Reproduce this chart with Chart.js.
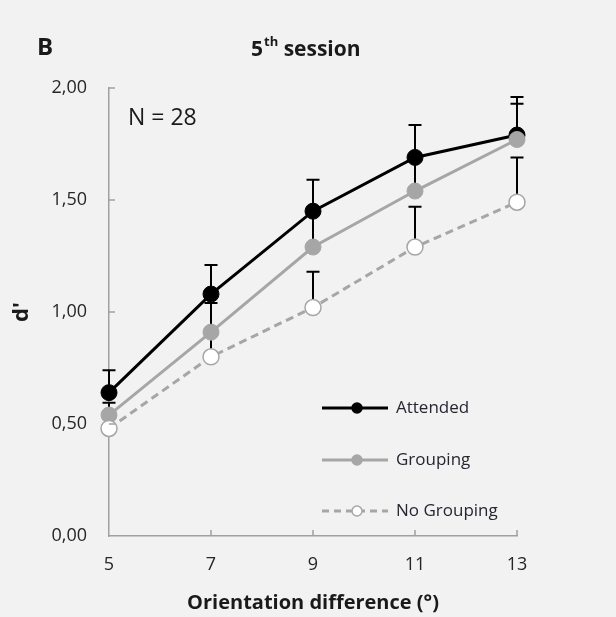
<!DOCTYPE html>
<html>
<head>
<meta charset="utf-8">
<script src="https://cdn.jsdelivr.net/npm/chart.js@4.4.1/dist/chart.umd.min.js"></script>
<style>
  html, body { margin: 0; padding: 0; background: #f2f2f2; }
  #wrap { width: 616px; height: 617px; }
</style>
</head>
<body>
<div id="wrap"><canvas id="dprimeChart" width="616" height="617"></canvas></div>
<script>
// datos
const xValues = [5, 7, 9, 11, 13];
const yTicks = [0, 0.5, 1, 1.5, 2];
const attended = [0.64, 1.08, 1.45, 1.69, 1.79];
const grouping = [0.54, 0.91, 1.29, 1.54, 1.77];
const noGrouping = [0.48, 0.80, 1.02, 1.29, 1.49];
// error hacia arriba
const attendedErr = [0.10, 0.13, 0.14, 0.145, 0.17];
const groupingErr = [0.055, 0.13, 0.15, 0.14, 0.16];
const noGroupingErr = [0.05, 0.11, 0.16, 0.18, 0.20];

const FONT = '"Open Sans", sans-serif';
const GREY = '#a6a6a6';

function toPoints(vals) {
    return xValues.map((x, i) => ({ x: x, y: vals[i] }));
}

// barras de error (solo hacia arriba), dibujadas antes de los puntos
const errorBars = {
    id: 'errorBars',
    beforeDatasetsDraw(chart) {
        const { ctx, scales: { x, y } } = chart;
        const sets = [[attended, attendedErr], [grouping, groupingErr], [noGrouping, noGroupingErr]];
        ctx.save();
        ctx.strokeStyle = '#000';
        ctx.lineWidth = 2;
        sets.forEach(([vals, errs]) => {
            vals.forEach((v, i) => {
                const px = x.getPixelForValue(xValues[i]);
                const y0 = y.getPixelForValue(v);
                const y1 = y.getPixelForValue(v + errs[i]);
                ctx.beginPath();
                ctx.moveTo(px, y0);
                ctx.lineTo(px, y1);
                ctx.moveTo(px - 6.5, y1);
                ctx.lineTo(px + 6.5, y1);
                ctx.stroke();
            });
        });
        ctx.restore();
    }
};

// marcas de los ejes hacia dentro, textos y leyenda
const decorations = {
    id: 'decorations',
    afterDraw(chart) {
        const { ctx, chartArea: a, scales: { x, y } } = chart;
        ctx.save();
        ctx.strokeStyle = '#a0a0a0';
        ctx.lineWidth = 1.5;
        ctx.beginPath();
        yTicks.forEach(t => {
            if (t === 0) return;
            const py = y.getPixelForValue(t);
            ctx.moveTo(a.left, py);
            ctx.lineTo(a.left + 6, py);
        });
        xValues.forEach(t => {
            if (t === 5) return;
            const px = x.getPixelForValue(t);
            ctx.moveTo(px, a.bottom);
            ctx.lineTo(px, a.bottom - 6);
        });
        ctx.stroke();

        // letra del panel
        ctx.fillStyle = '#1a1a1a';
        ctx.textBaseline = 'middle';
        ctx.textAlign = 'left';
        ctx.font = 'bold 24px ' + FONT;
        ctx.fillText('B', 37, 48);

        // título con superíndice
        ctx.font = 'bold 21px ' + FONT;
        ctx.fillText('5', 251, 50);
        let w = ctx.measureText('5').width;
        ctx.font = 'bold 13px ' + FONT;
        ctx.fillText('th', 251 + w + 1, 42);
        const w2 = ctx.measureText('th').width;
        ctx.font = 'bold 21px ' + FONT;
        ctx.fillText(' session', 251 + w + 1 + w2, 50);

        ctx.font = '23px ' + FONT;
        ctx.fillText('N = 28', 128, 118);

        // leyenda
        const items = [
            { label: 'Attended', color: '#000', fill: '#000', dash: [], y: 408 },
            { label: 'Grouping', color: GREY, fill: GREY, dash: [], y: 460 },
            { label: 'No Grouping', color: GREY, fill: '#fff', dash: [7, 5], y: 511 }
        ];
        items.forEach(it => {
            ctx.strokeStyle = it.color;
            ctx.lineWidth = 3;
            ctx.setLineDash(it.dash);
            ctx.beginPath();
            ctx.moveTo(322, it.y);
            ctx.lineTo(388, it.y);
            ctx.stroke();
            ctx.setLineDash([]);
            ctx.beginPath();
            ctx.arc(357, it.y, 5, 0, Math.PI * 2);
            ctx.fillStyle = it.fill;
            ctx.fill();
            ctx.lineWidth = 1.5;
            ctx.stroke();
            ctx.fillStyle = '#262630';
            ctx.font = '17px ' + FONT;
            ctx.fillText(it.label, 396, it.y);
        });
        ctx.restore();
    }
};

const ctx = document.getElementById('dprimeChart').getContext('2d');
new Chart(ctx, {
    type: 'line',
    data: {
        datasets: [{
            label: 'Attended',
            data: toPoints(attended),
            borderColor: '#000', backgroundColor: '#000',
            borderWidth: 3, pointRadius: 8, pointBorderWidth: 1, clip: false,
            pointBackgroundColor: '#000', pointBorderColor: '#000',
        }, {
            label: 'Grouping',
            data: toPoints(grouping),
            borderColor: GREY, backgroundColor: GREY,
            borderWidth: 3, pointRadius: 8, pointBorderWidth: 1, clip: false,
            pointBackgroundColor: GREY, pointBorderColor: GREY,
        }, {
            label: 'No Grouping',
            data: toPoints(noGrouping),
            borderColor: GREY, backgroundColor: '#fff',
            borderWidth: 3, borderDash: [8, 5], pointRadius: 8, pointBorderWidth: 1.5, clip: false,
            pointBackgroundColor: '#fff', pointBorderColor: GREY,
        }].reverse()
    },
    options: {
        responsive: false,
        animation: false,
        layout: { padding: { left: 5, top: 88, right: 99, bottom: 0 } },
        plugins: { legend: { display: false }, tooltip: { enabled: false } },
        scales: {
            x: {
                type: 'linear', min: 5, max: 13,
                afterBuildTicks: s => { s.ticks = xValues.map(v => ({ value: v })); },
                afterFit: s => { s.height = 81; },
                grid: { display: false },
                border: { display: true, color: '#a0a0a0', width: 1.5 },
                ticks: { padding: 10, color: '#262626', font: { family: FONT, size: 18 } },
                title: {
                    display: true, text: 'Orientation difference (°)',
                    color: '#1a1a1a', font: { family: FONT, size: 20, weight: 'bold' },
                    padding: { top: 0, bottom: 2 }
                }
            },
            y: {
                min: 0, max: 2,
                afterBuildTicks: s => { s.ticks = yTicks.map(v => ({ value: v })); },
                afterFit: s => { s.width = 104; },
                grid: { display: false },
                border: { display: true, color: '#a0a0a0', width: 1.5 },
                ticks: {
                    padding: 14, color: '#262626', font: { family: FONT, size: 18 },
                    callback: v => v.toFixed(2).replace('.', ',')
                },
                title: {
                    display: true, text: "d'",
                    color: '#1a1a1a', font: { family: FONT, size: 22, weight: 'bold' },
                    padding: { top: 4, bottom: 0 }
                }
            }
        }
    },
    plugins: [errorBars, decorations]
});
</script>
</body>
</html>
